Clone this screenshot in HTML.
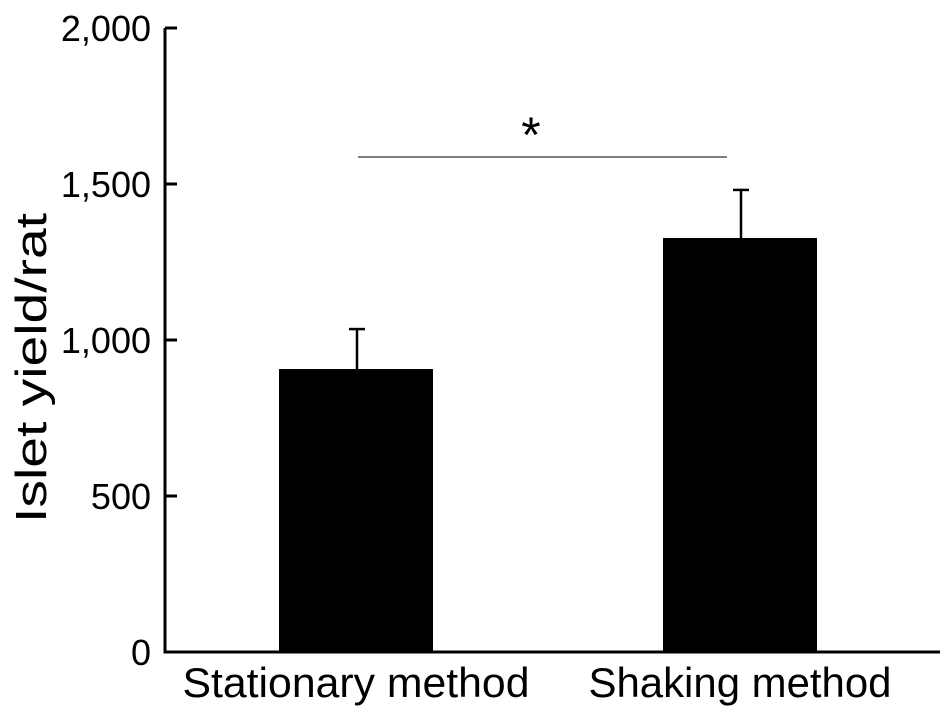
<!DOCTYPE html>
<html><head><meta charset="utf-8"><style>
html,body{margin:0;padding:0;background:#fff;}
svg{display:block;font-family:"Liberation Sans",Arial,sans-serif;}
</style></head><body>
<svg id="chart" width="945" height="718" viewBox="0 0 945 718" xmlns="http://www.w3.org/2000/svg">
<g id="axes"></g><g id="bars"></g>
</svg>
<script>
const categories = ["Stationary method", "Shaking method"];
const values = [907, 1327];
const errors = [128, 154];
const yTicks = [0, 500, 1000, 1500, 2000];
const yTickLabels = ["0", "500", "1,000", "1,500", "2,000"];

const NS = "http://www.w3.org/2000/svg";
const x0 = 165, y0 = 652, yTop = 28, yMax = 2000;
const y = v => y0 - (v / yMax) * (y0 - yTop);
const centers = [356, 740], bw = 154;
const labelLens = [347, 303];
const xc = i => centers[i];
function mk(tag, attrs, parent, text){
  const e = document.createElementNS(NS, tag);
  for (const k in attrs) e.setAttribute(k, attrs[k]);
  if (text !== undefined) e.textContent = text;
  parent.appendChild(e); return e;
}
const axes = document.getElementById('axes');
const bars = document.getElementById('bars');

let l = mk('line', {x1:x0, y1:yTop, x2:x0, y2:y0, stroke:'#000','stroke-width':3}, axes);


l = mk('line', {x1:x0-1.5, y1:y0, x2:940, y2:y0, stroke:'#000','stroke-width':3}, axes);



yTicks.forEach((t, i) => {
  const tk = mk('line', {x1:x0, y1:y(t), x2:x0+12, y2:y(t), stroke:'#000','stroke-width':3}, axes);
  
  
  const tl = mk('text', {x:151, y:y(t)+13, 'text-anchor':'end', 'font-size':36}, axes, yTickLabels[i]);
  
  
});

const yt = mk('text', {x:0, y:0, 'text-anchor':'middle', 'font-size':44, textLength:310, lengthAdjust:'spacingAndGlyphs', transform:'translate(46,368) rotate(-90)'}, axes, 'Islet yield/rat');



categories.forEach((c, i) => {
  const r = mk('rect', {x:xc(i)-bw/2, y:y(values[i]), width:bw, height:y0-y(values[i]), fill:'#000'}, bars);
  
  
  const ex = xc(i)+1;
  const e = mk('line', {x1:ex, y1:y(values[i]), x2:ex, y2:y(values[i]+errors[i]), stroke:'#000','stroke-width':2.5}, bars);
  
  
  const cap = mk('line', {x1:ex-8, y1:y(values[i]+errors[i]), x2:ex+8, y2:y(values[i]+errors[i]), stroke:'#000','stroke-width':2.5}, bars);
  
  
  const lab = mk('text', {x:xc(i), y:697, 'text-anchor':'middle', 'font-size':42, textLength:labelLens[i], lengthAdjust:'spacingAndGlyphs'}, bars, c);
  
  
});

const sig = mk('line', {x1:358, y1:157, x2:727, y2:157, stroke:'#333','stroke-width':1.3}, bars);


const st = mk('text', {x:531, y:152, 'text-anchor':'middle', 'font-size':50}, bars, '*');


</script>
</body></html>
